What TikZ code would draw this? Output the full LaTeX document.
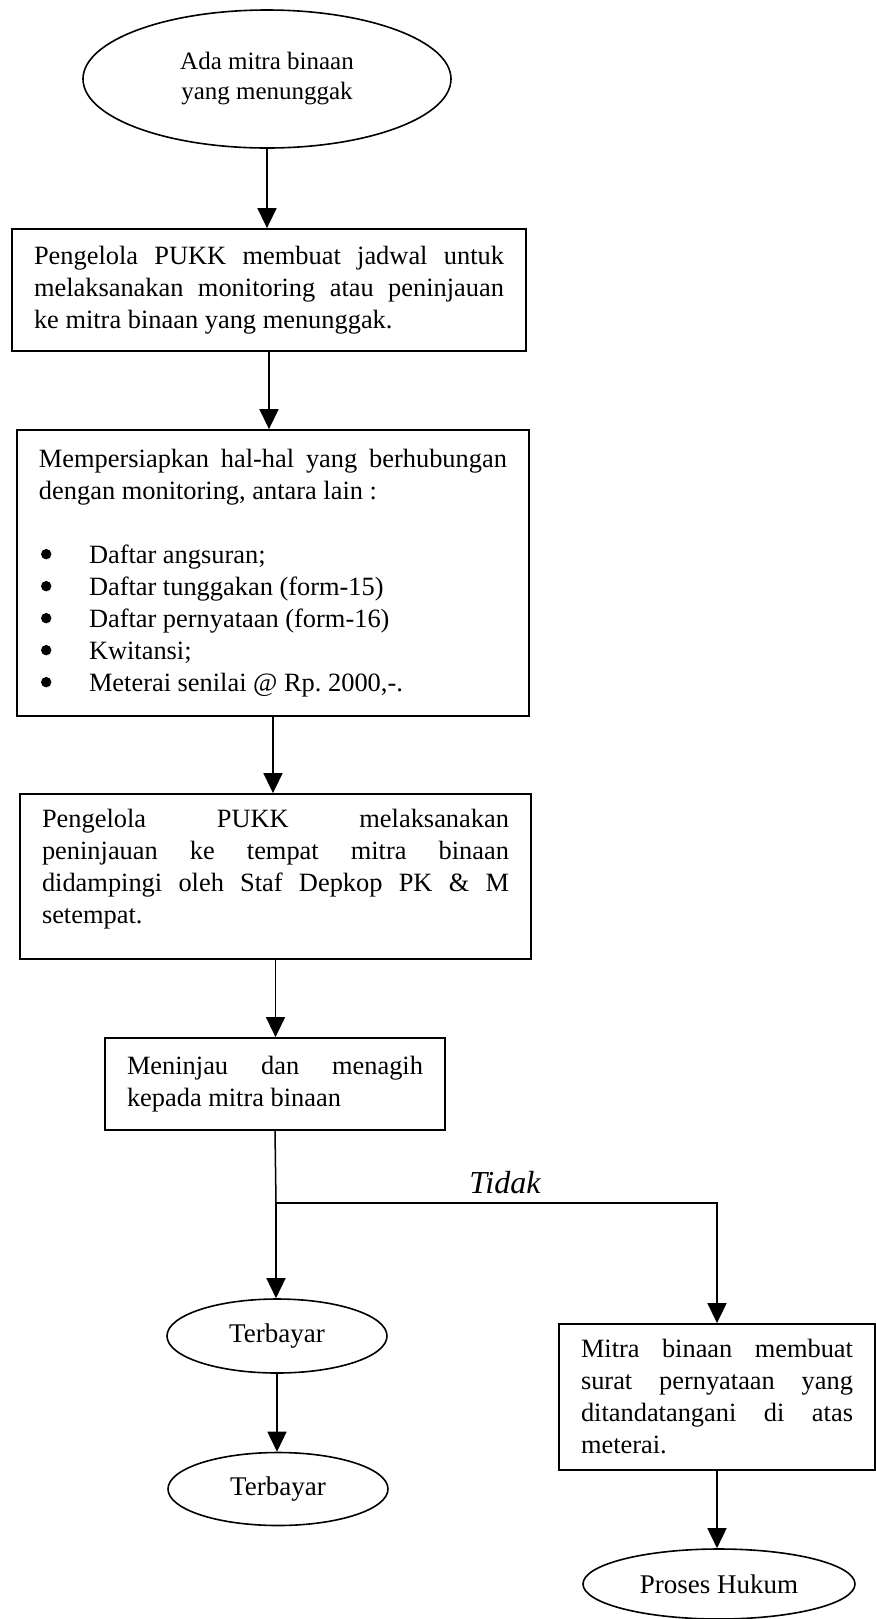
\documentclass[tikz,border=0pt]{standalone}
\usepackage{fontspec}
\setmainfont{Liberation Serif}
\usetikzlibrary{arrows.meta,shapes.geometric}
\setlength{\parindent}{0pt}
\frenchspacing
% font's own interword glue, stretchable for spread lines
\newcommand{\fontspaces}{\spaceskip=\fontdimen2\font plus 1fil\relax\xspaceskip=0pt\relax}
% one justified line of a box text, spread over the box's text width
\newcommand{\jl}[1]{\makebox[\boxw][s]{\fontspaces#1}}
% round list dot and one bullet item
\newcommand{\dotmark}{\tikz[baseline=0pt]{\fill (2.6pt,4.6pt) circle[radius=2.6pt];}}
\newcommand{\itm}[1]{\makebox[25pt][l]{\hspace*{1pt}\dotmark}#1}
\def\boxw{0pt}
\tikzset{
  body/.style={font=\fontsize{13.2}{16}\selectfont},
  textw/.style={text width=#1,
    execute at begin node={\def\boxw{#1}\spaceskip=0pt\xspaceskip=0pt\relax}},
  stepbox/.style={body, draw, line width=0.9pt, rectangle, align=left,
    inner xsep=11pt, inner ysep=0pt},
  oval/.style={draw, line width=0.8pt, ellipse, align=center, inner sep=0pt},
  flow/.style={line width=0.75pt, -{Triangle[length=10pt,width=9.5pt]}},
  plain/.style={line width=0.75pt},
  answer/.style={font=\fontsize{16}{19}\selectfont\itshape, inner sep=0pt}
}
\begin{document}
\begin{tikzpicture}[x=0.5pt,y=-0.5pt]
\useasboundingbox (0,0) rectangle (876,1619);

\node[oval, font=\fontsize{12.5}{15}\selectfont, minimum width=184pt, minimum height=69pt] (start) at (267,79)
  {Ada mitra binaan\\yang menunggak};

\node[stepbox, minimum width=257pt, minimum height=61pt, textw=235pt] (jadwal) at (269,290)
  {\jl{Pengelola PUKK membuat jadwal untuk}\\
   \jl{melaksanakan monitoring atau peninjauan}\\
   ke mitra binaan yang menunggak.};

\node[stepbox, minimum width=256pt, minimum height=143pt, textw=234pt] (siap) at (273,573)
  {\jl{Mempersiapkan hal-hal yang berhubungan}\\
   dengan monitoring, antara lain :\\[16pt]
   \itm{Daftar angsuran;}\\
   \itm{Daftar tunggakan (form-15)}\\
   \itm{Daftar pernyataan (form-16)}\\
   \itm{Kwitansi;}\\
   \itm{Meterai senilai @ Rp. 2000,-.}};

\node[stepbox, minimum width=255.5pt, minimum height=82.5pt, textw=233.5pt] (tinjau) at (275.5,876.5)
  {\jl{Pengelola PUKK melaksanakan}\\
   \jl{peninjauan ke tempat mitra binaan}\\
   \jl{didampingi oleh Staf Depkop PK \& M}\\
   setempat.\rule[-10.5pt]{0pt}{0pt}};

\node[stepbox, minimum width=170pt, minimum height=46pt, textw=148pt] (tagih) at (275,1084)
  {\jl{Meninjau dan menagih}\\
   kepada mitra binaan};

\node[oval, font=\fontsize{13.5}{16}\selectfont, minimum width=110pt, minimum height=37pt] (bayar1) at (277,1336) {Terbayar};
\node[oval, font=\fontsize{13.5}{16}\selectfont, minimum width=110pt, minimum height=36.5pt] (bayar2) at (278,1489) {Terbayar};

\node[stepbox, minimum width=158pt, minimum height=73pt, textw=136pt] (surat) at (717,1397)
  {\jl{Mitra binaan membuat}\\
   \jl{surat pernyataan yang}\\
   \jl{ditandatangani di atas}\\
   meterai.};

\node[oval, font=\fontsize{13.5}{16}\selectfont, minimum width=136pt, minimum height=35pt] (hukum) at (719,1584) {Proses Hukum};

\coordinate (split) at (276,1203);
\node[answer, anchor=base] (tidak) at (505,1193) {Tidak};

\draw[flow] (start.south) -- (start.south |- jadwal.north);
\draw[flow] (jadwal.south) -- (jadwal.south |- siap.north);
\draw[flow] (siap.south) -- (siap.south |- tinjau.north);
\draw[flow] (tinjau.south) -- (tinjau.south |- tagih.north);
\draw[plain] (tagih.south) -- (split);
\draw[flow] (split) -- (split |- bayar1.north);
\draw[flow] (split) -| (surat.north);
\draw[flow] (bayar1.south) -- (bayar1.south |- bayar2.north);
\draw[flow] (surat.south) -- (surat.south |- hukum.north);
\end{tikzpicture}
\end{document}
